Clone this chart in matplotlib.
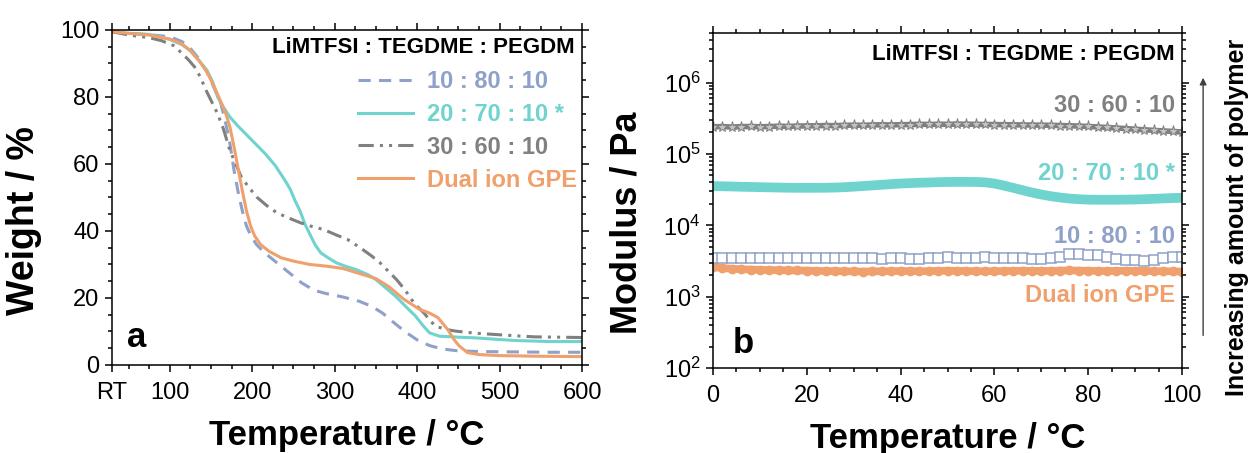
"""TGA (a) and rheology (b) of the LiMTFSI : TEGDME : PEGDM gel electrolytes."""

import matplotlib

matplotlib.use("Agg")
import matplotlib.pyplot as plt
import numpy as np
from matplotlib.ticker import FixedLocator, LogLocator, MultipleLocator

plt.rcParams["font.family"] = ["Liberation Sans", "DejaVu Sans"]
plt.rcParams["mathtext.fontset"] = "custom"
plt.rcParams["mathtext.rm"] = "Liberation Sans"
plt.rcParams["mathtext.it"] = "Liberation Sans:italic"
plt.rcParams["mathtext.bf"] = "Liberation Sans:bold"

# colours
C_BLUE = "#8fa1c8"
C_TEAL = "#6fd3ce"
C_GRAY = "#808080"
C_ORANGE = "#efa06c"

LEGEND_TITLE = "LiMTFSI : TEGDME : PEGDM"
LABELS = ["10 : 80 : 10", "20 : 70 : 10 *", "30 : 60 : 10", "Dual ion GPE"]

# ---- panel a: TGA, weight (%) vs temperature (deg C)
tga_T_10_80_10 = [30, 50, 75, 100, 115, 125, 135, 145, 155, 162, 168, 173, 178, 183, 188, 193,
                  198, 205, 215, 230, 245, 260, 275, 290, 310, 330, 345, 358, 370, 385, 400, 415,
                  430, 450, 480, 520, 560, 600]
tga_W_10_80_10 = [99.5, 99.0, 98.6, 98.0, 96.5, 94.5, 91.5, 87.5, 82.0, 78.0, 72.0, 66.0, 58.0,
                  51.5, 46.0, 41.5, 38.8, 36.0, 33.5, 30.5, 27.5, 24.5, 22.3, 21.3, 20.3, 19.0,
                  17.5, 15.5, 13.0, 10.0, 7.5, 5.8, 4.8, 4.2, 4.0, 3.9, 3.8, 3.8]

tga_T_20_70_10 = [30, 50, 75, 100, 115, 125, 135, 145, 152, 158, 165, 173, 182, 192, 204, 216,
                  228, 240, 246, 252, 258, 264, 270, 276, 283, 292, 302, 315, 326, 340, 350, 362,
                  374, 386, 398, 408, 415, 427, 450, 470, 500, 520, 560, 600]
tga_W_20_70_10 = [99.5, 99.0, 98.7, 97.2, 95.6, 93.8, 91.0, 88.0, 84.5, 80.0, 77.0, 74.0, 71.5,
                  69.0, 66.0, 63.0, 59.5, 55.0, 52.5, 49.0, 46.0, 42.0, 39.0, 36.0, 33.5, 32.0,
                  30.5, 29.3, 28.5, 27.0, 25.5, 23.0, 20.5, 17.5, 14.6, 11.5, 9.6, 8.6, 8.3, 8.1,
                  7.6, 7.3, 7.0, 7.0]

tga_T_30_60_10 = [30, 50, 75, 90, 105, 115, 123, 130, 137, 144, 151, 158, 165, 173, 180, 187,
                  196, 206, 218, 230, 245, 259, 273, 287, 302, 316, 331, 345, 355, 365, 375, 385,
                  393, 400, 408, 415, 422, 435, 447, 470, 495, 520, 542, 570, 600]
tga_W_30_60_10 = [99.5, 98.5, 97.7, 96.8, 95.3, 93.0, 91.0, 89.0, 86.0, 82.0, 78.5, 75.0, 70.5,
                  64.0, 60.0, 56.0, 53.0, 50.0, 47.5, 45.4, 43.8, 42.4, 41.3, 40.4, 38.8, 37.4,
                  35.0, 32.5, 30.5, 28.0, 25.5, 22.5, 19.6, 17.5, 15.6, 13.5, 11.6, 10.6, 10.1,
                  9.5, 9.1, 8.7, 8.4, 8.3, 8.2]

tga_T_dual = [30, 50, 75, 100, 115, 125, 135, 145, 155, 162, 168, 173, 178, 183, 188, 193, 198,
              203, 210, 220, 235, 250, 270, 290, 310, 330, 350, 365, 384, 403, 415, 425, 437,
              445, 451, 461, 475, 500, 550, 600]
tga_W_dual = [99.5, 99.0, 98.5, 97.3, 95.8, 93.8, 91.0, 87.5, 82.5, 78.5, 75.0, 71.0, 65.0,
              58.5, 52.0, 46.0, 41.5, 38.5, 36.0, 34.0, 32.0, 31.0, 30.0, 29.5, 28.8, 27.3, 25.8,
              23.5, 19.6, 16.6, 15.5, 14.2, 10.6, 7.5, 5.7, 3.7, 3.1, 2.8, 2.6, 2.5]

# ---- panel b: modulus (Pa) vs temperature (deg C), one reading every 2 deg C
rheo_T = np.arange(0, 101, 2)
mod_30_60_10 = np.array([
    2.40, 2.42, 2.38, 2.41, 2.43, 2.40, 2.42, 2.45, 2.43, 2.46, 2.47,
    2.48, 2.50, 2.49, 2.52, 2.53, 2.52, 2.55, 2.56, 2.55, 2.57,
    2.58, 2.60, 2.59, 2.61, 2.60, 2.62, 2.61, 2.60, 2.59, 2.58,
    2.57, 2.56, 2.55, 2.54, 2.53, 2.52, 2.50, 2.48, 2.46, 2.43,
    2.39, 2.35, 2.31, 2.27, 2.22, 2.18, 2.14, 2.10, 2.07, 2.03]) * 1e5
mod_20_70_10 = np.array([
    3.55, 3.52, 3.50, 3.47, 3.45, 3.42, 3.40, 3.38, 3.36, 3.35, 3.35,
    3.35, 3.36, 3.38, 3.42, 3.48, 3.55, 3.62, 3.70, 3.78, 3.85,
    3.90, 3.95, 3.98, 4.02, 4.05, 4.06, 4.06, 4.05, 4.00, 3.85,
    3.60, 3.35, 3.10, 2.88, 2.70, 2.56, 2.45, 2.37, 2.32, 2.29,
    2.28, 2.28, 2.28, 2.29, 2.30, 2.32, 2.35, 2.38, 2.41, 2.43]) * 1e4
mod_10_80_10 = np.array([
    3.45, 3.50, 3.48, 3.46, 3.50, 3.47, 3.45, 3.48, 3.50, 3.46, 3.44,
    3.47, 3.49, 3.45, 3.43, 3.46, 3.48, 3.44, 3.42, 3.45, 3.47,
    3.40, 3.38, 3.44, 3.52, 3.55, 3.50, 3.47, 3.52, 3.54, 3.48,
    3.45, 3.50, 3.46, 3.42, 3.40, 3.45, 3.60, 3.90, 3.95, 3.85,
    3.80, 3.62, 3.35, 3.28, 3.22, 3.12, 3.30, 3.50, 3.58, 3.60]) * 1e3
mod_dual = np.array([
    2.60, 2.52, 2.46, 2.42, 2.40, 2.38, 2.36, 2.35, 2.34, 2.33, 2.32,
    2.30, 2.29, 2.28, 2.27, 2.26, 2.25, 2.26, 2.27, 2.28, 2.29,
    2.28, 2.27, 2.28, 2.30, 2.31, 2.30, 2.29, 2.28, 2.27, 2.28,
    2.29, 2.30, 2.31, 2.30, 2.29, 2.30, 2.32, 2.33, 2.32, 2.31,
    2.30, 2.29, 2.30, 2.31, 2.30, 2.29, 2.28, 2.27, 2.26, 2.25]) * 1e3

TICK_FS = 17
LABEL_FS = 25


def style_axes(ax):
    for sp in ax.spines.values():
        sp.set_linewidth(1.1)
    ax.tick_params(which="both", direction="out", top=True, right=True,
                   labelsize=TICK_FS, width=1.1)
    ax.tick_params(axis="x", which="both", pad=7)
    ax.tick_params(axis="y", which="both", pad=4)
    ax.tick_params(which="major", length=5)
    ax.tick_params(which="minor", length=3)


fig = plt.figure(figsize=(12.52, 4.53), dpi=100)
ax1 = fig.add_axes([0.0895, 0.1943, 0.3754, 0.7395])
ax2 = fig.add_axes([0.5695, 0.1876, 0.3746, 0.7402])

# ---------------- panel a
ax1.plot(tga_T_10_80_10, tga_W_10_80_10, color=C_BLUE, lw=2.2, dashes=(4, 2.7), label=LABELS[0])
ax1.plot(tga_T_20_70_10, tga_W_20_70_10, color=C_TEAL, lw=2.2, label=LABELS[1])
ax1.plot(tga_T_30_60_10, tga_W_30_60_10, color=C_GRAY, lw=2.2,
         dashes=(5, 2, 1, 2, 1, 2), label=LABELS[2])
ax1.plot(tga_T_dual, tga_W_dual, color=C_ORANGE, lw=2.2, label=LABELS[3])

ax1.set_xlim(30, 600)
ax1.set_ylim(0, 100)
ax1.xaxis.set_major_locator(FixedLocator([30, 100, 200, 300, 400, 500, 600]))
ax1.set_xticklabels(["RT", "100", "200", "300", "400", "500", "600"])
ax1.xaxis.set_minor_locator(MultipleLocator(25))
ax1.yaxis.set_major_locator(MultipleLocator(20))
ax1.yaxis.set_minor_locator(MultipleLocator(5))
style_axes(ax1)
ax1.set_xlabel("Temperature / °C", fontsize=LABEL_FS, fontweight="bold", labelpad=11)
ax1.set_ylabel("Weight / %", fontsize=27, fontweight="bold")
ax1.yaxis.set_label_coords(-0.150, 0.43)

ax1.text(0.985, 0.931, LEGEND_TITLE, transform=ax1.transAxes, ha="right", va="baseline",
         fontsize=16, fontweight="bold")
ax1.legend(loc="upper right", bbox_to_anchor=(0.989, 0.881), frameon=False,
           prop={"weight": "bold", "size": 17}, labelcolor="linecolor",
           handlelength=2.3, handletextpad=0.6, labelspacing=0.42,
           borderpad=0.0, borderaxespad=0.0)
ax1.text(0.032, 0.054, "a", transform=ax1.transAxes, fontsize=25, fontweight="bold")

# ---------------- panel b
ax2.plot(rheo_T, mod_30_60_10, color=C_GRAY, lw=4, marker="*", ms=8,
         mfc="#c4c4c4", mec=C_GRAY, mew=0.7)
ax2.plot(rheo_T, mod_20_70_10, color=C_TEAL, lw=7, solid_capstyle="butt")
ax2.plot(rheo_T, mod_dual, color=C_ORANGE, lw=5.5, marker="o", ms=6, mec=C_ORANGE)
ax2.plot(rheo_T, mod_10_80_10, color=C_BLUE, lw=1, marker="s", ms=7.5,
         mfc="white", mec=C_BLUE, mew=1.1)

ax2.set_yscale("log")
ax2.set_xlim(0, 100)
ax2.set_ylim(1e2, 5e6)
ax2.xaxis.set_major_locator(MultipleLocator(20))
ax2.xaxis.set_minor_locator(MultipleLocator(5))
ax2.yaxis.set_major_locator(LogLocator(base=10))
ax2.yaxis.set_minor_locator(LogLocator(base=10, subs=np.arange(2, 10)))
style_axes(ax2)
ax2.set_xlabel("Temperature / °C", fontsize=LABEL_FS, fontweight="bold", labelpad=11)
ax2.set_ylabel("Modulus / Pa", fontsize=26, fontweight="bold")
ax2.yaxis.set_label_coords(-0.147, 0.432)

ax2.text(0.985, 0.919, LEGEND_TITLE, transform=ax2.transAxes, ha="right", va="baseline",
         fontsize=16, fontweight="bold")
for label, color, ypos in zip(LABELS, [C_BLUE, C_TEAL, C_GRAY, C_ORANGE],
                              [0.373, 0.561, 0.764, 0.197]):
    ax2.text(0.985, ypos, label, transform=ax2.transAxes, ha="right", va="baseline",
             fontsize=17, fontweight="bold", color=color)
ax2.text(0.043, 0.045, "b", transform=ax2.transAxes, fontsize=25, fontweight="bold")

ax2.annotate("", xy=(1.045, 0.874), xytext=(1.045, 0.089), xycoords="axes fraction",
             textcoords="axes fraction", annotation_clip=False,
             arrowprops=dict(arrowstyle="-|>", color="#404040", lw=1.0, mutation_scale=10))
ax2.text(1.118, 0.45, "Increasing amount of polymer", transform=ax2.transAxes,
         rotation=90, ha="center", va="center", fontsize=18, fontweight="bold")

fig.savefig("out.png", dpi=100)
